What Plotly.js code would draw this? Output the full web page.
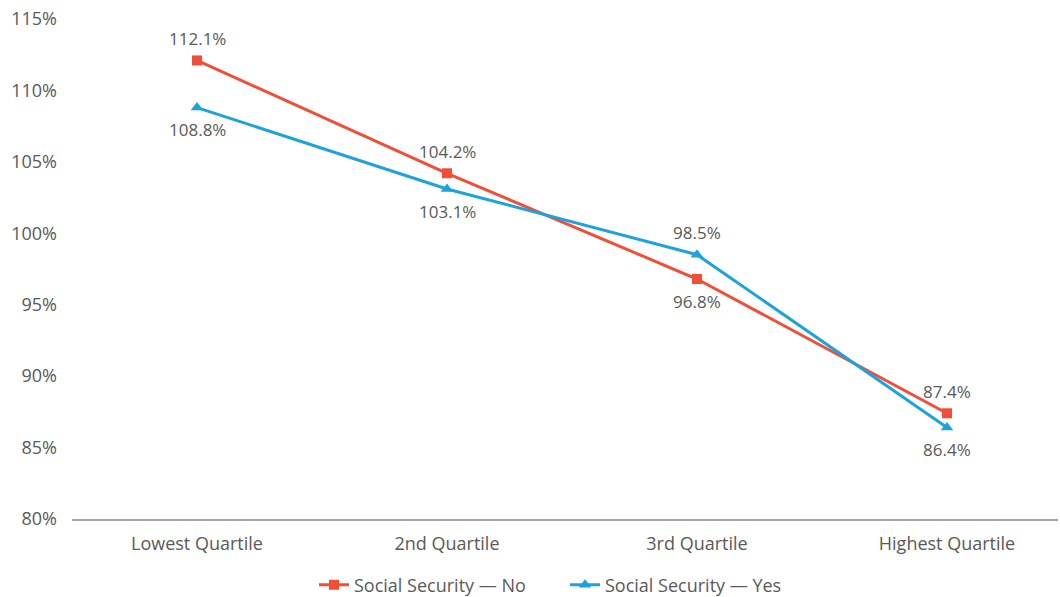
<!DOCTYPE html>
<html><head><meta charset="utf-8">
<script src="https://cdn.plot.ly/plotly-3.0.1.min.js"></script>
<style>body{margin:0;background:#fff}#c{width:1060px;height:597px}</style>
</head><body><div id="c"></div>
<script>
var categories = ["Lowest Quartile", "2nd Quartile", "3rd Quartile", "Highest Quartile"];
var ssNo = [112.1, 104.2, 96.8, 87.4];
var ssYes = [108.8, 103.1, 98.5, 86.4];
var noLabelSide = [1, 1, -1, 1];   // 1 = above, -1 = below
var yesLabelSide = [-1, -1, 1, -1];
var yTicks = [80, 85, 90, 95, 100, 105, 110, 115];
var font = "'Century Gothic', 'Open Sans', sans-serif";
var traces = [
  {x: categories, y: ssNo, name: "Social Security — No", type: "scatter", mode: "lines+markers",
   line: {color: "#f04e37", width: 3}, marker: {symbol: "square", size: 10, color: "#f04e37"}, cliponaxis: false},
  {x: categories, y: ssYes, name: "Social Security — Yes", type: "scatter", mode: "lines+markers",
   line: {color: "#1ca2dd", width: 3}, marker: {symbol: "triangle-up", size: 11, color: "#1ca2dd"}, cliponaxis: false}
];
var annotations = [];
function addLabels(vals, sides) {
  vals.forEach(function(v, i) {
    annotations.push({x: categories[i], y: v, xref: "x", yref: "y", text: v.toFixed(1) + "%",
      showarrow: false, yshift: sides[i] * 22, font: {size: 17, color: "#595959", family: font}});
  });
}
addLabels(ssNo, noLabelSide);
addLabels(ssYes, yesLabelSide);
var layout = {
  width: 1060, height: 597,
  margin: {l: 72, r: 2, t: 19, b: 78},
  paper_bgcolor: "#fff", plot_bgcolor: "#fff",
  font: {family: font, color: "#595959", size: 18},
  showlegend: true,
  annotations: annotations,
  legend: {orientation: "h", x: 0.5, xanchor: "center", xref: "paper", yref: "container", y: 0.02, yanchor: "middle",
           entrywidth: 206, entrywidthmode: "pixels",
           font: {size: 18, color: "#595959"}, tracegroupgap: 0},
  xaxis: {type: "category", range: [-0.5, 3.444], showgrid: false, zeroline: false,
          showline: true, linecolor: "#a6a6a6", linewidth: 1.5, ticks: "", ticklabelstandoff: 8,
          tickfont: {size: 18, color: "#595959"}},
  yaxis: {range: [80, 115], tickvals: yTicks, ticktext: yTicks.map(function(v){return v+"%";}),
          showgrid: false, zeroline: false, showline: false, ticks: "", ticklabelstandoff: 14,
          tickfont: {size: 18, color: "#595959"}}
};
Plotly.newPlot("c", traces, layout, {displayModeBar: false});
</script></body></html>
